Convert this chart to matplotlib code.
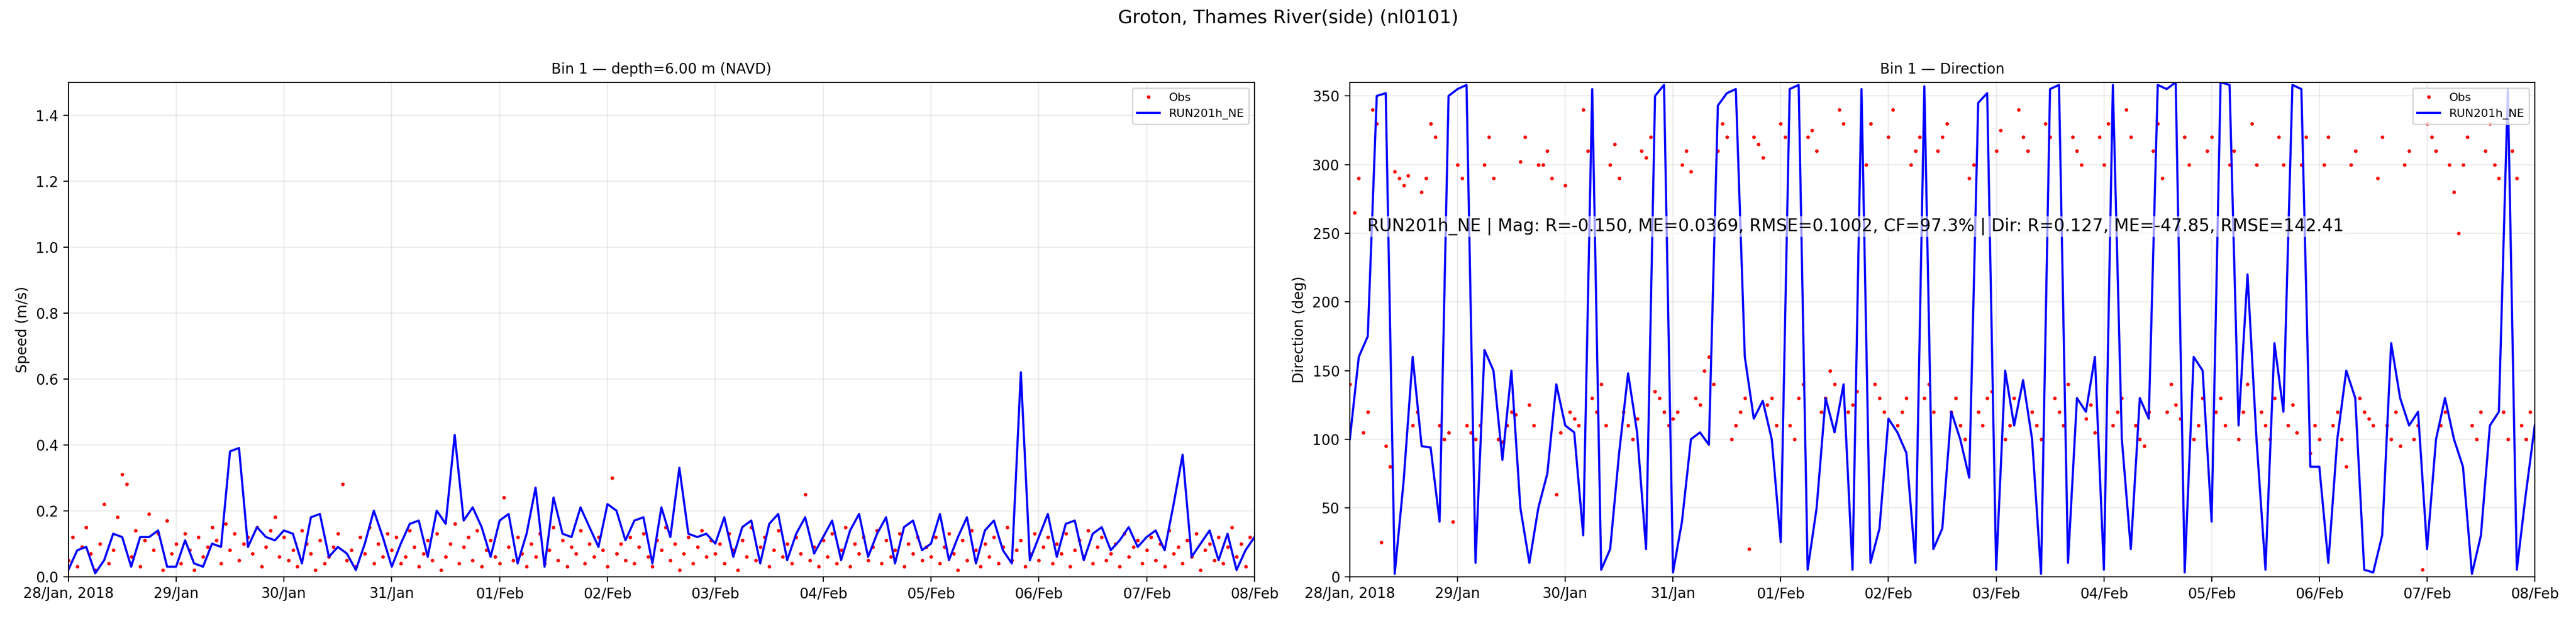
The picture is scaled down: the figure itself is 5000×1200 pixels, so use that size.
import numpy as np
import pandas as pd
import matplotlib
matplotlib.use("Agg")
import matplotlib.pyplot as plt
import matplotlib.dates as mdates

# model, 2-hourly from 28 Jan 2018 00:00
model_speed = [
    .02, .08, .09, .01, .05, .13, .12, .03, .12, .12, .14, .03,
    .03, .11, .04, .03, .10, .09, .38, .39, .09, .15, .12, .11,
    .14, .13, .04, .18, .19, .06, .09, .07, .02, .10, .20, .12,
    .03, .10, .16, .17, .06, .20, .16, .43, .17, .21, .15, .06,
    .17, .19, .04, .13, .27, .03, .24, .13, .12, .21, .15, .09,
    .22, .20, .11, .17, .18, .04, .21, .12, .33, .13, .12, .13,
    .10, .18, .06, .15, .17, .04, .16, .19, .05, .13, .18, .07,
    .12, .17, .05, .14, .19, .06, .13, .18, .04, .15, .17, .08,
    .10, .19, .05, .12, .18, .04, .14, .17, .08, .04, .62, .05,
    .12, .19, .06, .16, .17, .05, .13, .15, .08, .11, .15, .09,
    .12, .14, .08, .22, .37, .06, .10, .14, .05, .13, .02, .08, .12,
]
model_dir = [
    100, 160, 175, 350, 352, 2, 70, 160, 95, 94, 40, 350,
    355, 358, 10, 165, 150, 85, 150, 50, 10, 50, 75, 140,
    110, 105, 30, 355, 5, 20, 90, 148, 105, 20, 350, 358,
    3, 40, 100, 105, 96, 343, 352, 355, 160, 115, 128, 100,
    25, 355, 358, 5, 50, 130, 105, 140, 5, 355, 10, 35,
    115, 105, 90, 10, 357, 20, 35, 120, 100, 72, 345, 352,
    5, 150, 110, 143, 100, 2, 355, 358, 10, 130, 120, 160,
    5, 358, 100, 20, 130, 115, 358, 355, 360, 3, 160, 150,
    40, 360, 358, 110, 220, 100, 5, 170, 120, 358, 355, 80,
    80, 10, 100, 150, 130, 5, 3, 30, 170, 130, 110, 120,
    20, 100, 130, 100, 80, 2, 30, 110, 120, 355, 5, 60, 110,
]
# observations, hourly
obs_speed = [
    .05, .12, .03, .09, .15, .07, .02, .10, .22, .04, .08, .18, .31, .28, .06, .14, .03, .11, .19, .08, .13, .02, .17, .07,
    .10, .04, .13, .08, .02, .12, .06, .09, .15, .11, .04, .16, .08, .13, .05, .10, .12, .07, .15, .03, .09, .14, .18, .06,
    .12, .05, .08, .03, .14, .10, .07, .02, .11, .04, .06, .09, .13, .28, .05, .08, .03, .12, .07, .15, .04, .10, .06, .13,
    .08, .12, .04, .06, .14, .09, .03, .07, .11, .05, .13, .02, .06, .10, .16, .04, .09, .12, .05, .14, .03, .08, .11, .06,
    .04, .24, .09, .05, .12, .07, .03, .10, .06, .13, .04, .08, .15, .05, .11, .03, .09, .07, .14, .04, .10, .06, .12, .08,
    .03, .30, .07, .10, .05, .12, .04, .09, .13, .06, .03, .11, .08, .15, .05, .10, .02, .07, .12, .04, .09, .14, .06, .11,
    .07, .10, .04, .13, .08, .02, .11, .06, .15, .05, .09, .12, .03, .08, .14, .06, .10, .04, .12, .07, .25, .05, .09, .03,
    .11, .06, .13, .04, .08, .15, .03, .10, .07, .12, .05, .09, .14, .04, .11, .06, .08, .13, .03, .10, .07, .12, .05, .09,
    .06, .12, .04, .09, .13, .07, .02, .11, .05, .14, .08, .03, .10, .06, .12, .04, .09, .15, .05, .08, .11, .03, .07, .13,
    .05, .09, .12, .04, .10, .07, .13, .03, .08, .11, .06, .14, .04, .09, .12, .05, .07, .10, .03, .13, .06, .09, .11, .04,
    .08, .12, .05, .10, .03, .14, .07, .09, .04, .11, .06, .13, .02, .08, .10, .05, .12, .04, .09, .15, .06, .10, .03, .12,
]
obs_dir = [
    140, 265, 290, 105, 120, 340, 330, 25, 95, 80, 295, 290, 285, 292, 110, 120, 280, 290, 330, 320, 110, 100, 105, 40,
    300, 290, 110, 105, 100, 110, 300, 320, 290, 100, 98, 110, 120, 118, 302, 320, 125, 110, 300, 300, 310, 290, 60, 105,
    285, 120, 115, 110, 340, 310, 130, 120, 140, 110, 300, 315, 290, 120, 110, 100, 115, 310, 305, 320, 135, 130, 120, 110,
    115, 120, 300, 310, 295, 130, 125, 150, 160, 140, 310, 330, 320, 100, 110, 120, 130, 20, 320, 315, 305, 125, 130, 110,
    330, 320, 110, 100, 130, 140, 320, 325, 310, 120, 130, 150, 140, 340, 330, 120, 125, 135, 310, 300, 330, 140, 130, 120,
    320, 340, 110, 120, 130, 300, 310, 320, 130, 140, 120, 310, 320, 330, 120, 130, 110, 100, 290, 300, 120, 110, 130, 135,
    310, 325, 100, 110, 130, 340, 320, 310, 120, 110, 100, 330, 320, 130, 120, 110, 140, 320, 310, 300, 115, 125, 105, 320,
    300, 330, 110, 120, 130, 340, 320, 110, 100, 95, 120, 310, 330, 290, 120, 140, 125, 115, 320, 300, 100, 110, 130, 310,
    320, 120, 130, 110, 300, 310, 100, 120, 140, 330, 300, 120, 110, 100, 130, 320, 300, 110, 125, 105, 300, 320, 90, 110,
    100, 300, 320, 110, 120, 100, 80, 300, 310, 130, 120, 115, 110, 290, 320, 110, 100, 120, 95, 300, 310, 100, 110, 5,
    330, 320, 310, 110, 120, 300, 280, 250, 300, 320, 110, 100, 120, 310, 330, 300, 290, 120, 100, 310, 290, 110, 100, 120,
]
stats_text = ("RUN201h_NE | Mag: R=-0.150, ME=0.0369, RMSE=0.1002, CF=97.3% | "
              "Dir: R=0.127, ME=-47.85, RMSE=142.41")

t0 = pd.Timestamp("2018-01-28")
t_model = t0 + pd.to_timedelta(np.arange(len(model_speed)) * 2, unit="h")
t_obs = t0 + pd.to_timedelta(np.arange(len(obs_speed)), unit="h")
t_end = pd.Timestamp("2018-02-08")


def fmt_date(x, pos=None):
    d = mdates.num2date(x)
    if pos == 0:
        return d.strftime("%d/%b, %Y")
    return d.strftime("%d/%b")


fig = plt.figure(figsize=(25, 6), dpi=200)
ax1 = fig.add_axes([0.0265, 0.067, 0.4605, 0.80])
ax2 = fig.add_axes([0.524, 0.067, 0.460, 0.80])
fig.suptitle("Groton, Thames River(side) (nl0101)", fontsize=13, y=0.985)

ax1.plot(t_obs, obs_speed, "r.", markersize=3, label="Obs")
ax1.plot(t_model, model_speed, "b-", linewidth=1.5, label="RUN201h_NE")
ax1.set_ylim(0, 1.5)
ax1.set_ylabel("Speed (m/s)")
ax1.set_title("Bin 1 — depth=6.00 m (NAVD)", fontsize=10)

ax2.plot(t_obs, obs_dir, "r.", markersize=3, label="Obs")
ax2.plot(t_model, model_dir, "b-", linewidth=1.5, label="RUN201h_NE")
ax2.set_ylim(0, 360)
ax2.set_ylabel("Direction (deg)")
ax2.set_title("Bin 1 — Direction", fontsize=10)
ax2.text(0.015, 0.708, stats_text, transform=ax2.transAxes, fontsize=12,
         va="center", bbox=dict(facecolor="white", alpha=0.6, edgecolor="none", pad=1))

for ax in (ax1, ax2):
    ax.set_xlim(t0, t_end)
    ax.xaxis.set_major_locator(mdates.DayLocator())
    ax.xaxis.set_major_formatter(plt.FuncFormatter(fmt_date))
    ax.grid(True, alpha=0.25)
    ax.legend(loc="upper right", fontsize=8)

fig.savefig("out.png", dpi=200)
